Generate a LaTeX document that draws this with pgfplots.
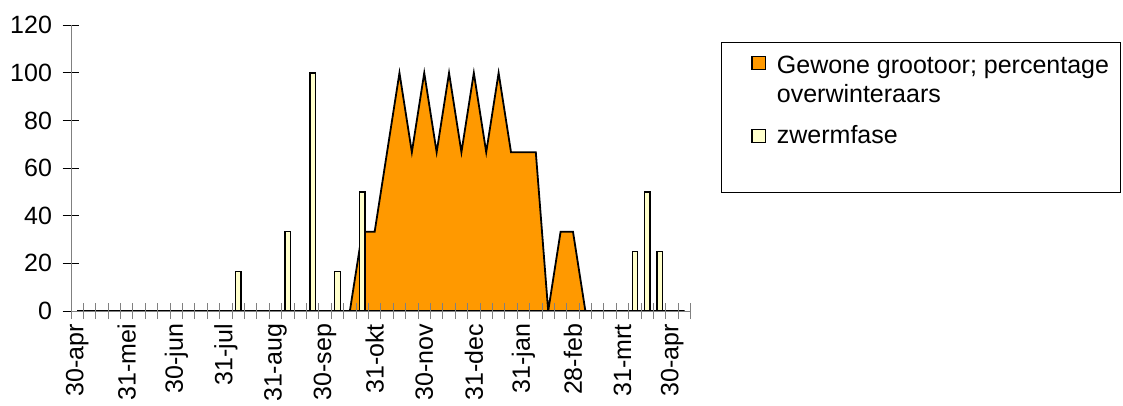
\documentclass[border=0pt]{standalone}
\usepackage{fontspec}
\setmainfont{Liberation Sans}
\usepackage{pgfplots}
\pgfplotsset{compat=1.18}
\definecolor{orangeF}{RGB}{255,153,0}
\definecolor{yelF}{RGB}{255,255,204}
\definecolor{axgray}{RGB}{128,128,128}
\begin{document}
\begin{tikzpicture}
\begin{axis}[
  scale only axis,
  width=464.8pt, height=214.3pt,
  at={(53.25pt,70.5pt)}, anchor=south west,
  xmin=-0.5, xmax=49.5, ymin=0, ymax=120,
  axis lines*=left,
  axis line style={draw=axgray, line width=0.75pt},
  axis on top,
  tick align=center,
  major tick length=12.5pt,
  minor tick length=12pt,
  xtick={0,4,...,48},
  xticklabels={30-apr,31-mei,30-jun,31-jul,31-aug,30-sep,31-okt,30-nov,31-dec,31-jan,28-feb,31-mrt,30-apr},
  minor xtick={-0.5,0.5,...,49.5},
  major x tick style={draw=none},
  minor x tick style={draw=axgray, line width=0.75pt},
  ytick={0,20,...,120},
  major y tick style={draw=black, line width=0.75pt},
  /pgf/number format/assume math mode=true,
  tick label style={font=\fontsize{18.75}{22}\selectfont, text=black},
  xticklabel style={rotate=90, anchor=east},
  yticklabel style={xshift=-4.5pt},
  legend style={at={(1.0974,0.895)}, anchor=north west, draw=none, fill=none,
    inner sep=0pt, row sep=15.6pt, column sep=8.25pt,
    font=\fontsize{18.75}{21.9}\selectfont,
    cells={anchor=north west},
    nodes={inner sep=0pt, align=left}},
]
\addplot[fill=orangeF, draw=black, line width=1.35pt, sharp plot, line join=miter,
  legend image code/.code={\draw[fill=orangeF, draw=black, line width=0.9pt] (0pt,-0.6pt) rectangle (10pt,-10.6pt);}]
coordinates {
(0,0) (1,0) (2,0) (3,0) (4,0) (5,0) (6,0) (7,0) (8,0) (9,0)
(10,0) (11,0) (12,0) (13,0) (14,0) (15,0) (16,0) (17,0) (18,0) (19,0)
(20,0) (21,0) (22,0) (23,33.3) (24,33.3) (25,66.7) (26,100) (27,66.7) (28,100) (29,66.7)
(30,100) (31,66.7) (32,100) (33,66.7) (34,100) (35,66.7) (36,66.7) (37,66.7) (38,0) (39,33.3)
(40,33.3) (41,0) (42,0) (43,0) (44,0) (45,0) (46,0) (47,0) (48,0) (49,0)
} \closedcycle;
\addlegendentry{Gewone grootoor; percentage\\overwinteraars}
\addplot[ybar, bar width=0.45, bar shift=0pt, fill=yelF, draw=black, line width=1pt,
  legend image code/.code={\draw[fill=yelF, draw=black, line width=0.9pt] (0pt,-3pt) rectangle (10pt,-13pt);}]
coordinates {
(13,16.7) (17,33.3) (19,100) (21,16.7) (23,50) (45,25) (46,50) (47,25)
};
\addlegendentry{zwermfase}
\end{axis}
\draw[black, line width=0.75pt] (541.3pt,159.2pt) rectangle (840pt,271.7pt);
\pgfresetboundingbox
\useasboundingbox (0,0) rectangle (842.25pt,303.75pt);
\end{tikzpicture}
\end{document}
